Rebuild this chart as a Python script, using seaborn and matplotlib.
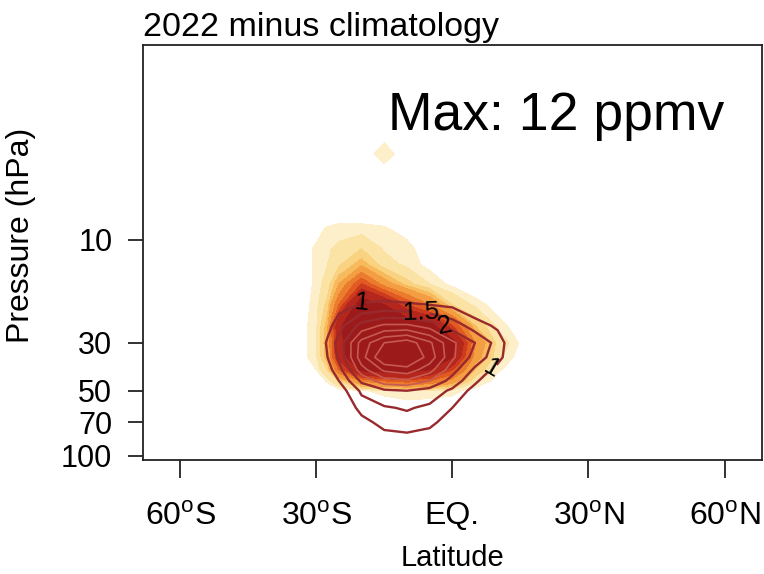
import numpy as np
import matplotlib
matplotlib.use("Agg")
import matplotlib.pyplot as plt
from matplotlib.colors import ListedColormap, BoundaryNorm
import seaborn as sns

# grid
lats = [-35, -30, -27.5, -25, -20, -15, -10, -5, 0, 5, 10, 15, 20]
pres = [3, 4, 5, 7, 9, 11, 13, 16, 20, 25, 30, 35, 40, 45, 50, 60, 70, 85, 100]

# shaded field: 2022 minus climatology (ppmv)
anom = [
    [0, 0, 0, 0, 0, 0, 0, 0, 0, 0, 0, 0, 0],                          # 3
    [0, 0, 0, 0, 0, 0.45, 0, 0, 0, 0, 0, 0, 0],                       # 4
    [0, 0, 0, 0, 0, 0, 0, 0, 0, 0, 0, 0, 0],                          # 5
    [0, 0, 0, 0, 0, 0, 0, 0, 0, 0, 0, 0, 0],                          # 7
    [0, 0.15, 0.3, 0.35, 0.35, 0.3, 0.15, 0, 0, 0, 0, 0, 0],          # 9
    [0, 0.3, 0.45, 0.6, 1.0, 0.45, 0.35, 0.05, 0, 0, 0, 0, 0],        # 11
    [0, 0.3, 0.5, 0.9, 1.8, 0.7, 0.4, 0.15, 0, 0, 0, 0, 0],           # 13
    [0, 0.3, 0.7, 2.0, 5.0, 2.5, 1.2, 0.5, 0.15, 0, 0, 0, 0],         # 16
    [0, 0.35, 1.2, 4.0, 9.5, 8.0, 5.0, 3.0, 1.0, 0.4, 0.1, 0, 0],     # 20
    [0, 0.4, 1.8, 7.5, 11, 11, 10, 9, 5, 1.5, 0.4, 0.05, 0],          # 25
    [0, 0.4, 2.0, 7.0, 12, 12, 11.5, 11, 9, 3, 0.8, 0.2, 0],          # 30
    [0, 0.4, 1.8, 6.5, 11, 12, 12, 11, 8, 2.5, 0.6, 0.1, 0],          # 35
    [0, 0.25, 1.0, 4.0, 8.5, 9, 9, 8, 5, 1.5, 0.3, 0, 0],             # 40
    [0, 0, 0.3, 1.0, 3.0, 4.0, 4.5, 4.0, 2.5, 0.6, 0.1, 0, 0],        # 45
    [0, 0, 0, 0.1, 0.2, 0.35, 0.5, 0.45, 0.35, 0.1, 0, 0, 0],         # 50
    [0, 0, 0, 0, 0, 0, 0, 0, 0, 0, 0, 0, 0],                          # 60
    [0, 0, 0, 0, 0, 0, 0, 0, 0, 0, 0, 0, 0],                          # 70
    [0, 0, 0, 0, 0, 0, 0, 0, 0, 0, 0, 0, 0],                          # 85
    [0, 0, 0, 0, 0, 0, 0, 0, 0, 0, 0, 0, 0],                          # 100
]

# contoured field (line contours)
ratio = [
    [0, 0, 0, 0, 0, 0, 0, 0, 0, 0, 0, 0, 0],                          # 3
    [0, 0, 0, 0, 0, 0, 0, 0, 0, 0, 0, 0, 0],                          # 4
    [0, 0, 0, 0, 0, 0, 0, 0, 0, 0, 0, 0, 0],                          # 5
    [0, 0, 0, 0, 0, 0, 0, 0, 0, 0, 0, 0, 0],                          # 7
    [0, 0, 0, 0, 0, 0, 0, 0, 0, 0, 0, 0, 0],                          # 9
    [0, 0, 0, 0, 0, 0, 0, 0, 0, 0, 0, 0, 0],                          # 11
    [0, 0, 0, 0, 0, 0, 0, 0, 0, 0, 0, 0, 0],                          # 13
    [0, 0, 0.2, 0.4, 0.6, 0.6, 0.6, 0.55, 0.5, 0.3, 0.1, 0, 0],       # 16
    [0, 0, 0.4, 0.8, 1.05, 1.1, 1.05, 1.0, 0.9, 0.6, 0.3, 0, 0],      # 20
    [0, 0.3, 0.8, 1.3, 2.2, 2.6, 2.6, 2.3, 1.8, 1.25, 0.9, 0.2, 0],   # 25
    [0, 0.4, 1.1, 1.7, 3.2, 4.0, 4.3, 3.6, 2.6, 2.0, 1.3, 0.3, 0],    # 30
    [0, 0.4, 1.0, 1.6, 3.3, 4.5, 4.6, 3.8, 2.6, 1.8, 1.2, 0.3, 0],    # 35
    [0, 0.3, 0.8, 1.3, 2.8, 3.6, 3.8, 3.2, 2.2, 1.4, 0.8, 0.1, 0],    # 40
    [0, 0.2, 0.6, 1.0, 2.1, 2.8, 2.9, 2.5, 1.8, 1.1, 0.5, 0, 0],      # 45
    [0, 0.1, 0.4, 0.7, 1.6, 1.9, 2.0, 1.8, 1.4, 0.8, 0.3, 0, 0],      # 50
    [0, 0, 0.2, 0.4, 1.2, 1.45, 1.55, 1.4, 1.0, 0.5, 0.1, 0, 0],      # 60
    [0, 0, 0.1, 0.2, 0.8, 1.2, 1.3, 1.15, 0.7, 0.3, 0, 0, 0],         # 70
    [0, 0, 0, 0, 0.4, 0.7, 0.75, 0.65, 0.3, 0, 0, 0, 0],              # 85
    [0, 0, 0, 0, 0, 0, 0, 0, 0, 0, 0, 0, 0],                          # 100
]

fill_levels = [0.25, 0.5, 1, 1.5, 2, 3, 4, 5, 6, 8]
fill_colors = ['#fcefca', '#fbe3a6', '#f9d282', '#f7bb5e', '#f39e42',
               '#ec7c2d', '#e05a22', '#cc3b1e', '#b5261c', '#9c1a1a']
dark_levels = [1, 1.5, 2]
light_levels = [2.5, 3, 3.5, 4]
label_spots = [(-20, 19.5), (8.5, 38), (-7, 22.5), (-2, 27)]

xticks = [-60, -30, 0, 30, 60]
xticklabels = [r'60$^\mathrm{o}$S', r'30$^\mathrm{o}$S', 'EQ.', r'30$^\mathrm{o}$N', r'60$^\mathrm{o}$N']
yticks = [10, 30, 50, 70, 100]

sns.set_style("ticks")
plt.rcParams['font.family'] = ['Liberation Sans', 'DejaVu Sans']
plt.rcParams['mathtext.fontset'] = 'custom'
plt.rcParams['mathtext.rm'] = 'Liberation Sans'
plt.rcParams['text.color'] = 'black'
plt.rcParams['axes.labelcolor'] = 'black'
plt.rcParams['xtick.color'] = 'black'
plt.rcParams['ytick.color'] = 'black'

fig = plt.figure(figsize=(7.64, 5.74), dpi=100)
ax = fig.add_axes([0.187, 0.199, 0.81, 0.723])

cmap = ListedColormap(fill_colors[:-1])
cmap.set_over(fill_colors[-1])
norm = BoundaryNorm(fill_levels, cmap.N)
ax.contourf(lats, pres, np.array(anom), levels=fill_levels, cmap=cmap, norm=norm, extend='max')

ax.contour(lats, pres, np.array(ratio), levels=light_levels, colors='#c65a52', linewidths=1.2)
cs = ax.contour(lats, pres, np.array(ratio), levels=dark_levels, colors='#982a2e', linewidths=1.7)
ax.clabel(cs, inline=True, fmt='%g', fontsize=19, colors='black', manual=label_spots)

ax.set_yscale('log')
ax.set_xlim(-68.2, 68.2)
ax.set_ylim(104.4, 1.25)
ax.set_yticks(yticks)
ax.set_yticklabels([str(v) for v in yticks])
ax.yaxis.set_minor_locator(matplotlib.ticker.NullLocator())
ax.set_xticks(xticks)
ax.set_xticklabels(xticklabels)

for s in ax.spines.values():
    s.set_linewidth(1.3)
    s.set_color('#222222')
ax.tick_params(axis='x', length=13, width=1.3, pad=17, labelsize=23, color='#222222')
ax.tick_params(axis='y', length=11, width=1.3, pad=11, labelsize=22, color='#222222')

ax.set_xlabel('Latitude', fontsize=21, labelpad=9)
ax.set_ylabel('Pressure (hPa)', fontsize=23)
ax.yaxis.set_label_coords(-0.173, 0.54)
ax.set_title('2022 minus climatology', loc='left', fontsize=24.5, pad=6)
ax.text(0.396, 0.795, 'Max: 12 ppmv', transform=ax.transAxes, fontsize=38.5, va='baseline')

fig.savefig('out.png', dpi=100)
